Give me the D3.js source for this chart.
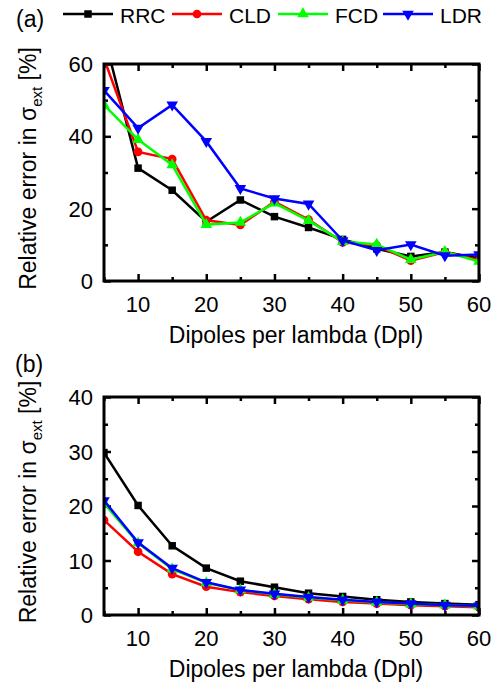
<!DOCTYPE html>
<html>
<head>
<meta charset="utf-8">
<script src="https://cdn.jsdelivr.net/npm/d3@7"></script>
<style>
  body{margin:0;background:#fff;}
  text{font-family:"Liberation Sans",Arial,sans-serif;fill:#000;}
</style>
</head>
<body>
<div id="chart"></div>
<script>
// x values shared by every series
var dpl=[5,10,15,20,25,30,35,40,45,50,55,60];

// panel (a) values, relative error [%]
var rrcA=[68,31.2,25.1,16.4,22.4,17.8,14.8,11.5,8.9,6.8,8.0,6.3];
var cldA=[61.5,35.7,33.7,16.8,15.5,21.9,17.0,10.7,9.8,5.6,8.0,5.8];
var fcdA=[48.7,39.1,32.1,15.6,16.2,21.5,16.7,10.9,10.1,5.9,8.1,5.4];
var ldrA=[52.7,42.3,48.7,38.6,25.6,22.8,21.3,11.2,8.5,10.1,7.0,7.3];

// panel (b) values
var rrcB=[29.8,20.1,12.7,8.6,6.2,5.1,4.0,3.4,2.8,2.4,2.1,1.9];
var cldB=[17.4,11.6,7.5,5.2,4.2,3.5,2.9,2.4,2.1,1.8,1.6,1.4];
var fcdB=[20.5,13.2,8.4,5.9,4.6,3.8,3.2,2.7,2.3,2.0,1.8,1.6];
var ldrB=[21.0,13.3,8.6,6.0,4.6,3.9,3.3,2.8,2.4,2.1,1.8,1.7];

var seriesNames=['RRC','CLD','FCD','LDR'];
var xTicksMajor=[10,20,30,40,50,60];
var yTicksA=[0,20,40,60];
var yTicksB=[0,10,20,30,40];

var colors={RRC:'#000000',CLD:'#ff0000',FCD:'#00ff00',LDR:'#0000ff'};
var shapes={RRC:d3.symbolSquare,CLD:d3.symbolCircle,FCD:d3.symbolTriangle,LDR:d3.symbolTriangle};
var rot={RRC:0,CLD:0,FCD:0,LDR:180};
var symSize={RRC:56,CLD:60,FCD:58,LDR:58};

var W=500,H=682;
var svg=d3.select('#chart').append('svg').attr('width',W).attr('height',H);

//draws one panel: frame, ticks, labels, lines and markers
function panel(id,top,bottom,yMax,yMajor,yMinorStep,data){
  var left=104,right=479;
  var x=d3.scaleLinear().domain([5,60]).range([left,right]);
  var y=d3.scaleLinear().domain([0,yMax]).range([bottom,top]);
  var g=svg.append('g');

  g.append('clipPath').attr('id','clip'+id)
    .append('rect').attr('x',left).attr('y',top).attr('width',right-left).attr('height',bottom-top);

  var xMinor=d3.range(5,61,5).filter(v=>v%10!==0);
  var yMinor=d3.range(0,yMax+0.1,yMinorStep).filter(v=>yMajor.indexOf(v)<0);

  //ticks on all four sides, pointing inward
  function ticks(axisFn,vals,size,tr){
    g.append('g').attr('transform',tr)
      .call(axisFn.tickValues(vals).tickSize(size).tickFormat(''))
      .call(a=>a.select('.domain').remove())
      .call(a=>a.selectAll('line').attr('stroke','#000').attr('stroke-width',2.5));
  }
  ticks(d3.axisBottom(x),xTicksMajor,-7,'translate(0,'+bottom+')');
  ticks(d3.axisBottom(x),xMinor,-4,'translate(0,'+bottom+')');
  ticks(d3.axisTop(x),xTicksMajor,-7,'translate(0,'+top+')');
  ticks(d3.axisTop(x),xMinor,-4,'translate(0,'+top+')');
  ticks(d3.axisLeft(y),yMajor,-7,'translate('+left+',0)');
  ticks(d3.axisLeft(y),yMinor,-4,'translate('+left+',0)');
  ticks(d3.axisRight(y),yMajor,-7,'translate('+right+',0)');
  ticks(d3.axisRight(y),yMinor,-4,'translate('+right+',0)');

  //tick labels
  g.selectAll('.xl').data(xTicksMajor).join('text')
    .attr('x',d=>x(d)).attr('y',bottom+31)
    .attr('text-anchor','middle').style('font-size','22px').text(d=>d);
  g.selectAll('.yl').data(yMajor).join('text')
    .attr('x',left-11).attr('y',d=>y(d)+8)
    .attr('text-anchor','end').style('font-size','22px').text(d=>d);

  //axis titles
  g.append('text').attr('x',296).attr('y',bottom+62)
    .attr('text-anchor','middle').style('font-size','23px').text('Dipoles per lambda (Dpl)');
  var yl=g.append('text')
    .attr('transform','translate(36,'+((top+bottom)/2-4)+') rotate(-90)')
    .attr('text-anchor','middle').style('font-size','23px');
  yl.append('tspan').text('Relative error in \u03c3');
  yl.append('tspan').attr('dy',6).style('font-size','15px').text('ext');
  yl.append('tspan').attr('dy',-6).text(' [%]');

  //series
  var plot=g.append('g').attr('clip-path','url(#clip'+id+')');
  var line=d3.line().x((d,i)=>x(dpl[i])).y(d=>y(d));
  seriesNames.forEach(function(name,k){
    var vals=data[k];
    plot.append('path').datum(vals)
      .attr('d',line).attr('fill','none')
      .attr('stroke',colors[name]).attr('stroke-width',2.5);
    plot.selectAll('.m'+name).data(vals).join('path')
      .attr('d',d3.symbol().type(shapes[name]).size(symSize[name]))
      .attr('transform',(d,i)=>'translate('+x(dpl[i])+','+y(d)+') rotate('+rot[name]+')')
      .attr('fill',colors[name]);
  });

  //frame
  g.append('rect').attr('x',left).attr('y',top).attr('width',right-left).attr('height',bottom-top)
    .attr('fill','none').attr('stroke','#000').attr('stroke-width',3);
}

panel('a',64,281,60,yTicksA,10,[rrcA,cldA,fcdA,ldrA]);
panel('b',397,615,40,yTicksB,5,[rrcB,cldB,fcdB,ldrB]);

//panel letters
svg.append('text').attr('x',16).attr('y',27).style('font-size','23px').text('(a)');
svg.append('text').attr('x',15).attr('y',372).style('font-size','23px').text('(b)');

//legend
var legX=[63,172,278,383];
var leg=svg.append('g');
seriesNames.forEach(function(name,k){
  var lx=legX[k];
  leg.append('line').attr('x1',lx).attr('x2',lx+50).attr('y1',14).attr('y2',14)
    .attr('stroke',colors[name]).attr('stroke-width',2.5);
  leg.append('path')
    .attr('d',d3.symbol().type(shapes[name]).size(symSize[name]))
    .attr('transform','translate('+(lx+25)+',14) rotate('+rot[name]+')')
    .attr('fill',colors[name]);
  leg.append('text').attr('x',lx+57).attr('y',22.5).style('font-size','21px').text(name);
});
</script>
</body>
</html>
